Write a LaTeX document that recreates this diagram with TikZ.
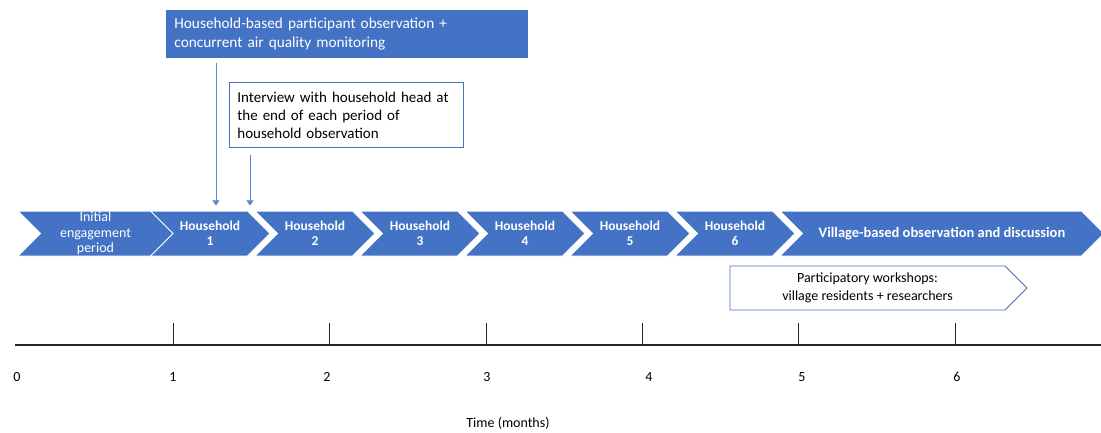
\documentclass[tikz,border=0pt]{standalone}
\usepackage{fontspec}
\setmainfont{Carlito}
\usetikzlibrary{arrows.meta,shapes.symbols}
\definecolor{officeblue}{HTML}{4472C4}
\definecolor{linkblue}{HTML}{5B87D6}
\tikzstyle{stage} = [shape=signal, signal to=east, signal from=west,
    signal pointer angle=90, fill=officeblue, draw=white, line width=1pt,
    text=white, align=center, minimum height=45pt, minimum width=120pt,
    inner sep=0pt, font=\fontsize{13.5}{15}\selectfont\bfseries]
\tikzstyle{note} = [rectangle, draw=officeblue, line width=0.8pt, align=left,
    anchor=north west, inner xsep=8pt, inner ysep=4pt]
\tikzstyle{monthlabel} = [font=\fontsize{14}{17}\selectfont]

\begin{document}
\begin{tikzpicture}[x=1pt,y=-1pt,>={Triangle[width=7pt,length=5pt]},
                    node distance=105pt]
  \useasboundingbox (0,0) rectangle (1101,433);

  % stages along the top of the timeline
  \node[stage]           (h1) at (210,233.5) {Household\\1};
  \node[stage]           (h2) [right of=h1] {Household\\2};
  \node[stage]           (h3) [right of=h2] {Household\\3};
  \node[stage]           (h4) [right of=h3] {Household\\4};
  \node[stage]           (h5) [right of=h4] {Household\\5};
  \node[stage]           (h6) [right of=h5] {Household\\6};
  \node[stage, minimum width=155pt, font=\fontsize{14}{15.5}\selectfont]
                         (init) [left of=h1, node distance=114.5pt] {Initial\\engagement\\period};
  \node[stage, minimum width=324pt, font=\fontsize{14.5}{17}\selectfont\bfseries]
                         (village) [right of=h6, node distance=207pt] {Village-based observation and discussion};
  \node[stage, signal from=nowhere, fill=white, draw=officeblue, line width=0.8pt,
        text=black, minimum width=297pt, minimum height=44pt, font=\fontsize{14}{18}\selectfont]
                         (workshop) at (867.5,288) {Participatory workshops:\\village residents + researchers};

  % boxes above
  \node[note, fill=officeblue, text=white, text width=345pt, minimum height=47pt,
        font=\fontsize{15.3}{19}\selectfont]
                         (observe) at (166,10) {Household-based participant observation +\\concurrent air quality monitoring};
  \node[note, fill=white, text width=218pt, minimum height=65pt,
        font=\fontsize{15}{18}\selectfont]
                         (interview) at (229,82) {Interview with household head at\\the end of each period of\\household observation};

  \coordinate (obsdrop) at ([xshift=50pt,yshift=-5pt]observe.south west);
  \coordinate (intdrop) at ([xshift=21pt,yshift=-7pt]interview.south west);
  \draw[->, linkblue, line width=0.8pt, shorten >=5pt] (obsdrop) -- (obsdrop |- h1.north);
  \draw[->, linkblue, line width=0.8pt, shorten >=5pt] (intdrop) -- (intdrop |- h1.north);

  % time axis
  \draw[line width=1.3pt, black!85] (15,345) -- (1101,345);
  \draw[line width=0.9pt, black!85] (173,323) -- (173,345);
  \draw[line width=0.9pt, black!85] (329,323) -- (329,345);
  \draw[line width=0.9pt, black!85] (486,323) -- (486,345);
  \draw[line width=0.9pt, black!85] (642,323) -- (642,345);
  \draw[line width=0.9pt, black!85] (798,323) -- (798,345);
  \draw[line width=0.9pt, black!85] (955,323) -- (955,345);

  \node[monthlabel] (m0) at (17,377) {0};
  \node[monthlabel] (m1) at (173,377) {1};
  \node[monthlabel] (m2) at (327,377) {2};
  \node[monthlabel] (m3) at (487,377) {3};
  \node[monthlabel] (m4) at (649,377) {4};
  \node[monthlabel] (m5) at (802,377) {5};
  \node[monthlabel] (m6) at (957,377) {6};
  \node[monthlabel] (timelabel) at (508,423) {Time (months)};
\end{tikzpicture}
\end{document}
